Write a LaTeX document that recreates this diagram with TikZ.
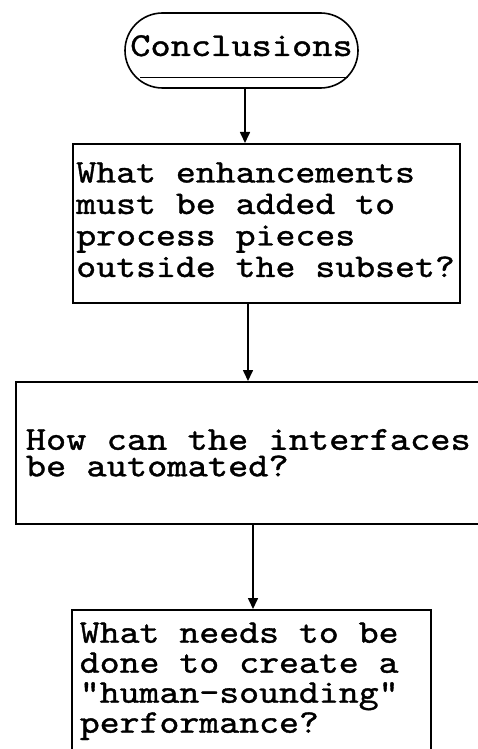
\documentclass[tikz,border=0pt]{standalone}
\usepackage{fontspec}
\newfontfamily\tw{lmmono10-regular.otf}[FakeStretch=1.15, FakeBold=1.1]
\usetikzlibrary{arrows.meta,calc,shapes.misc}

% typewriter text at a given size and line distance
\newcommand\twsize[2]{\tw\fontsize{#1}{#2}\selectfont}
% full-width interword spaces (ragged-right alignment would narrow them)
\newcommand\wsp{\spaceskip=\fontcharwd\font`\a\xspaceskip=\spaceskip\relax}

\tikzset{
  terminal/.style={draw, rounded rectangle, line width=1.6pt,
    minimum width=233pt, minimum height=75pt, inner sep=0pt,
    text height=22pt, text depth=11pt,
    font=\twsize{33.5}{34}},
  qbox/.style={draw, rectangle, line width=1.6pt, anchor=north west,
    align=left, inner ysep=0pt},
  flow/.style={line width=1.6pt, -{Triangle[length=11pt,width=10pt]}},
}

\begin{document}
\begin{tikzpicture}[x=1pt,y=-1pt]
  \useasboundingbox (0,0) rectangle (478,749);
  \clip (0,0) rectangle (478,749);

  % start terminal
  \node[terminal] (concl) at (241.5,50.5) {Conclusions};
  \draw[line width=1pt] ($(concl.south)+(-101.5,-11)$) -- ($(concl.south)+(106.5,-11)$);

  % question boxes
  \node[qbox, minimum width=387pt, minimum height=159pt, text width=380pt,
        inner xsep=3.5pt, font=\twsize{33}{31.5}]
        (enh) at (72,143)
        {\wsp What enhancements\\must be added to\\process pieces\\outside the subset?\vphantom{p}};

  \node[qbox, minimum width=470pt, minimum height=142pt, text width=450pt,
        inner xsep=10pt, font=\twsize{33.5}{26.5}]
        (iface) at (15,381)
        {\wsp How can the interfaces\\be automated?};

  \node[qbox, minimum width=359pt, minimum height=143pt, text width=343pt,
        inner xsep=8pt, font=\twsize{33}{30}]
        (human) at (71,609)
        {\wsp What needs to be\\done to create a\\"human-sounding"\\performance?};

  % connector columns
  \coordinate (c1) at (245,0);
  \coordinate (c2) at (248,0);
  \coordinate (c3) at (253,0);

  \draw[flow] (concl.south -| c1) -- (enh.north -| c1);
  \draw[flow] (enh.south -| c2) -- (iface.north -| c2);
  \draw[flow] (iface.south -| c3) -- (human.north -| c3);
\end{tikzpicture}
\end{document}
